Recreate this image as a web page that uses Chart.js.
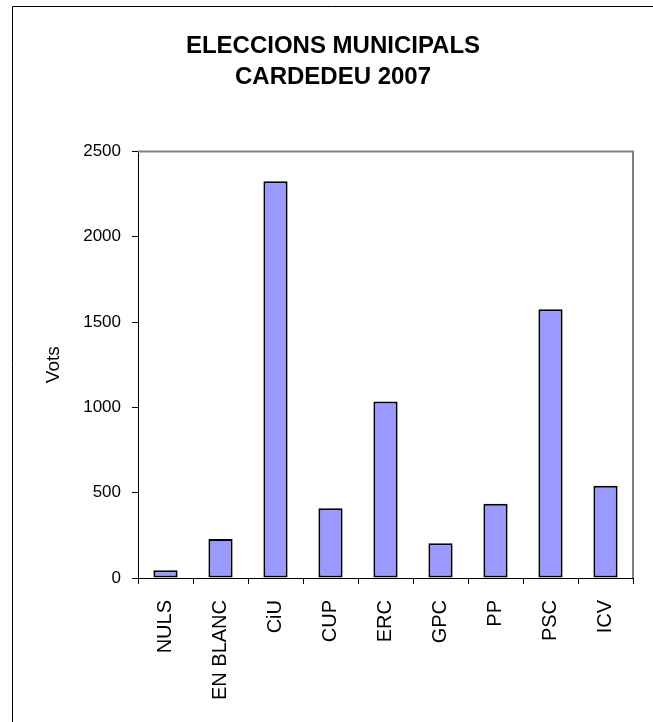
<!DOCTYPE html>
<html>
<head>
<meta charset="utf-8">
<script src="https://cdn.jsdelivr.net/npm/chart.js@4/dist/chart.umd.min.js"></script>
<style>
  html, body { margin: 0; padding: 0; background: #fff; }
  #wrap { width: 653px; height: 722px; }
</style>
</head>
<body>
<div id="wrap"><canvas id="c" width="653" height="722"></canvas></div>
<script>
// party names and votes
var parties = ["NULS", "EN BLANC", "CiU", "CUP", "ERC", "GPC", "PP", "PSC", "ICV"];
var votes = [45, 228, 2325, 409, 1035, 203, 435, 1575, 540];
var titleLines = ["ELECCIONS MUNICIPALS", "CARDEDEU 2007"];
var yTitle = "Vots";

var FONT = "'Liberation Sans', Arial, sans-serif";

// outer frame of the sheet + grey plot border (top/right)
var frame = {
    id: "frame",
    beforeDraw: function(chart){
        var ctx = chart.ctx;
        ctx.save();
        ctx.fillStyle = "#fff";
        ctx.fillRect(0, 0, chart.width, chart.height);
        ctx.strokeStyle = "#000";
        ctx.lineWidth = 1;
        ctx.beginPath();
        ctx.moveTo(12.5, chart.height);
        ctx.lineTo(12.5, 6.5);
        ctx.lineTo(chart.width, 6.5);
        ctx.stroke();
        ctx.restore();
    },
    beforeDatasetsDraw: function(chart){
        var a = chart.chartArea, ctx = chart.ctx;
        ctx.save();
        ctx.strokeStyle = "#808080";
        ctx.lineWidth = 2;
        ctx.beginPath();
        ctx.moveTo(a.left, a.top);
        ctx.lineTo(a.right, a.top);
        ctx.lineTo(a.right, a.bottom);
        ctx.stroke();
        ctx.restore();
    }
};

new Chart(document.getElementById("c"), {
    type: "bar",
    data: {
        labels: parties,
        datasets: [{
            data: votes,
            backgroundColor: "#9999FF",
            borderColor: "#000",
            borderWidth: 2,
            borderSkipped: false,
            barPercentage: 0.44,
            categoryPercentage: 1
        }]
    },
    options: {
        responsive: false,
        animation: false,
        layout: { padding: { left: 33, right: 20, top: 0, bottom: 0 } },
        plugins: {
            legend: { display: false },
            tooltip: { enabled: false },
            title: {
                display: true,
                text: titleLines,
                color: "#000",
                font: { family: FONT, size: 24, weight: "bold", lineHeight: 1.3 },
                padding: { top: 31, bottom: 58 }
            }
        },
        scales: {
            y: {
                min: 0,
                max: 2500,
                ticks: {
                    stepSize: 500, color: "#000", font: { family: FONT, size: 17 }, padding: 11,
                    callback: function(v){ return String(v); }
                },
                grid: { drawOnChartArea: false, drawTicks: true, tickLength: 6, color: "#000" },
                border: { color: "#000", width: 1 },
                title: { display: true, text: yTitle, color: "#000", font: { family: FONT, size: 19 }, padding: { top: 9, bottom: 0 } },
                afterFit: function(s){ s.width = 105; }
            },
            x: {
                ticks: { color: "#000", font: { family: FONT, size: 20 }, maxRotation: 90, minRotation: 90, padding: 16, autoSkip: false },
                grid: { offset: true, drawOnChartArea: false, drawTicks: true, tickLength: 6, color: "#000" },
                border: { color: "#000", width: 1 },
                afterFit: function(s){ s.height = 144; }
            }
        }
    },
    plugins: [frame]
});
</script>
</body>
</html>
